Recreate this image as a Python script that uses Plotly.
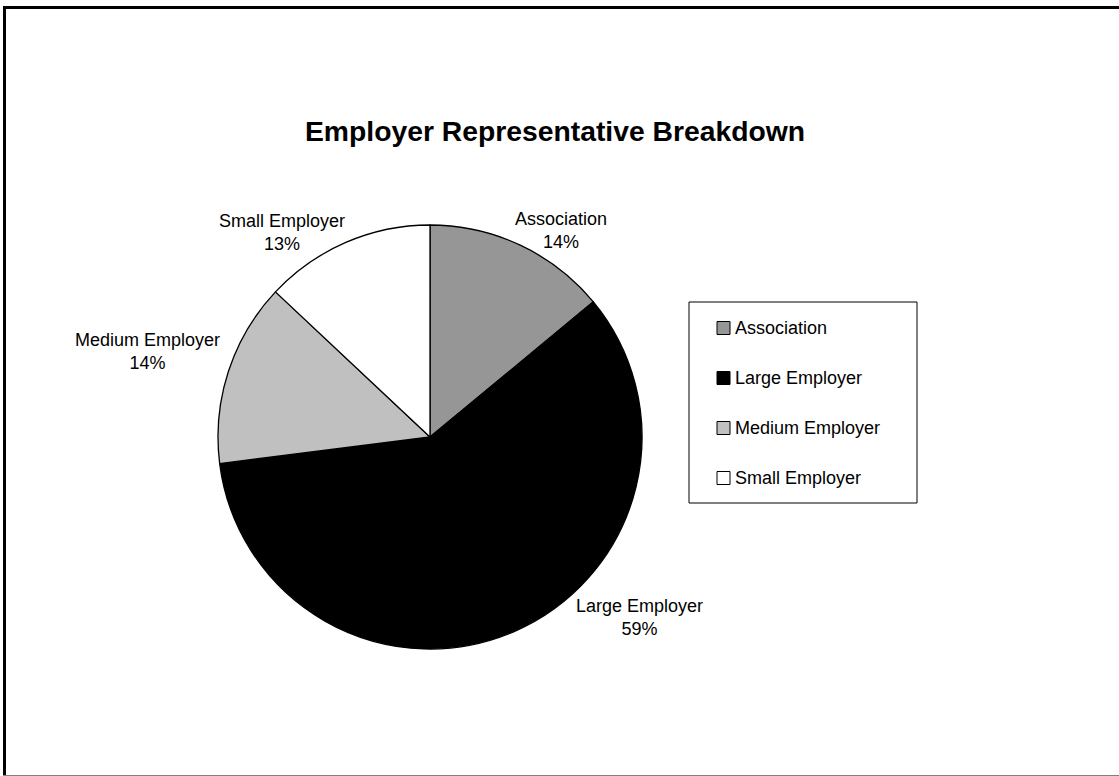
import plotly.graph_objects as go

# ---- data ----
categories = ["Association", "Large Employer", "Medium Employer", "Small Employer"]
values = [14, 59, 14, 13]
colors = ["#969696", "#000000", "#C0C0C0", "#FFFFFF"]
title_text = "Employer Representative Breakdown"

W, H = 1119, 776
FONT = "Liberation Sans, Arial, sans-serif"

def px(x):
    return x / W

def py(y):
    return 1 - y / H

fig = go.Figure()

fig.add_trace(go.Pie(
    labels=categories,
    values=values,
    marker=dict(colors=colors, line=dict(color="#000000", width=1.3)),
    sort=False,
    direction="clockwise",
    rotation=0,
    textinfo="none",
    hoverinfo="label+percent",
    showlegend=False,
    domain=dict(x=[px(218), px(642)], y=[py(649), py(225)]),
))

# data labels (positions are layout only; text comes from data)
total = sum(values)
label_pos = [(561, 230), (639, 617), (148, 352), (282, 232)]
annotations = []
for cat, val, (lx, ly) in zip(categories, values, label_pos):
    annotations.append(dict(
        x=px(lx), y=py(ly), xref="paper", yref="paper",
        text=f"{cat}<br>{round(100 * val / total)}%",
        showarrow=False, xanchor="center", yanchor="middle", align="center",
        font=dict(family=FONT, size=18, color="#000000"),
    ))

# manual legend
shapes = []
shapes.append(dict(type="rect", xref="paper", yref="paper",
                   x0=px(689), x1=px(917), y0=py(503), y1=py(302),
                   line=dict(color="#000000", width=1), fillcolor="#FFFFFF", layer="below"))
item_y0, item_step = 328, 50
for i, (cat, col) in enumerate(zip(categories, colors)):
    cy = item_y0 + i * item_step
    shapes.append(dict(type="rect", xref="paper", yref="paper",
                       x0=px(717), x1=px(730), y0=py(cy + 6.5), y1=py(cy - 6.5),
                       line=dict(color="#000000", width=1), fillcolor=col))
    annotations.append(dict(
        x=px(733), y=py(cy), xref="paper", yref="paper",
        text=cat, showarrow=False, xanchor="left", yanchor="middle",
        font=dict(family=FONT, size=18, color="#000000"),
    ))

# outer frame
shapes.append(dict(type="line", xref="paper", yref="paper",
                   x0=px(3), x1=px(1125), y0=py(7.5), y1=py(7.5),
                   line=dict(color="#000000", width=3)))
shapes.append(dict(type="line", xref="paper", yref="paper",
                   x0=px(4.5), x1=px(4.5), y0=py(6), y1=py(780),
                   line=dict(color="#000000", width=3)))
shapes.append(dict(type="line", xref="paper", yref="paper",
                   x0=px(3), x1=px(1125), y0=py(775.5), y1=py(775.5),
                   line=dict(color="#808080", width=1)))

fig.update_layout(
    width=W, height=H,
    margin=dict(l=0, r=0, t=0, b=0, pad=0),
    paper_bgcolor="#FFFFFF", plot_bgcolor="#FFFFFF",
    title=dict(text=f"<b>{title_text}</b>", x=px(555), y=py(131),
               xanchor="center", yanchor="middle", xref="paper", yref="paper",
               font=dict(family=FONT, size=28.3, color="#000000")),
    annotations=annotations,
    shapes=shapes,
    showlegend=False,
)

fig.write_html("out.html", config={"displayModeBar": False},
               post_script="document.body.style.margin='0';document.body.style.overflow='hidden';")
